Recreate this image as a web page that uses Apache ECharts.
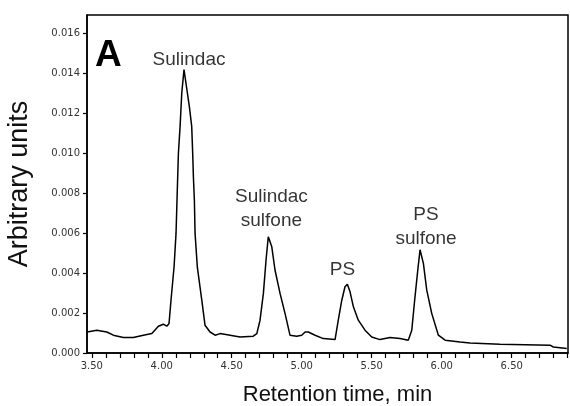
<!DOCTYPE html>
<html>
<head>
<meta charset="utf-8">
<script src="https://cdn.jsdelivr.net/npm/echarts@6/dist/echarts.min.js"></script>
<style>
  html, body { margin: 0; padding: 0; background: #fff; }
  #chart { width: 570px; height: 406px; }
</style>
</head>
<body>
<div id="chart"></div>
<script>
// 保留时间 (min) 与信号 (arbitrary units)
const retentionTime = [
  3.467, 3.536, 3.607, 3.654, 3.726, 3.797, 3.869, 3.929, 3.976, 4.011,
  4.036, 4.052, 4.066, 4.088, 4.102, 4.110, 4.119, 4.131, 4.143, 4.159,
  4.183, 4.197, 4.214, 4.221, 4.226, 4.233, 4.238, 4.254, 4.286, 4.309,
  4.345, 4.381, 4.417, 4.488, 4.559, 4.654, 4.679, 4.702, 4.726, 4.745,
  4.761, 4.769, 4.786, 4.809, 4.845, 4.881, 4.916, 4.964, 5.000, 5.024,
  5.047, 5.095, 5.154, 5.238, 5.261, 5.286, 5.309, 5.326, 5.345, 5.369,
  5.404, 5.452, 5.500, 5.559, 5.631, 5.702, 5.761, 5.786, 5.809, 5.829,
  5.845, 5.852, 5.869, 5.893, 5.929, 5.976, 6.024, 6.131, 6.202, 6.416,
  6.774, 6.797, 6.893
];
const signal = [
  0.00105, 0.00114, 0.00105, 0.00089, 0.00077, 0.00077, 0.00089, 0.00097, 0.00134, 0.00144,
  0.00134, 0.00147, 0.00264, 0.00431, 0.00598, 0.00790, 0.00999, 0.01133, 0.01300, 0.01417,
  0.01300, 0.01233, 0.01133, 0.00999, 0.00882, 0.00765, 0.00598, 0.00431, 0.00264, 0.00139,
  0.00105, 0.00089, 0.00097, 0.00089, 0.00080, 0.00084, 0.00097, 0.00164, 0.00298, 0.00465,
  0.00581, 0.00590, 0.00531, 0.00415, 0.00298, 0.00197, 0.00089, 0.00084, 0.00089, 0.00105,
  0.00105, 0.00089, 0.00072, 0.00067, 0.00164, 0.00264, 0.00331, 0.00344, 0.00306, 0.00231,
  0.00164, 0.00114, 0.00080, 0.00067, 0.00077, 0.00072, 0.00064, 0.00114, 0.00281, 0.00415,
  0.00516, 0.00523, 0.00448, 0.00314, 0.00197, 0.00089, 0.00064, 0.00055, 0.00050, 0.00044,
  0.00039, 0.00030, 0.00022
];

// 峰标注
const peakNames = ['Sulindac', 'Sulindac\nsulfone', 'PS', 'PS\nsulfone'];
const peakTimes = [4.159, 4.769, 5.326, 5.852];
const peakHeights = [0.01417, 0.00590, 0.00344, 0.00523];

// 刻度
const xTickLabels = ['3.50', '4.00', '4.50', '5.00', '5.50', '6.00', '6.50'];
const xMinorTicks = [
  3.5, 3.6, 3.7, 3.8, 3.9, 4.0, 4.1, 4.2, 4.3, 4.4, 4.5, 4.6, 4.7, 4.8, 4.9,
  5.0, 5.1, 5.2, 5.3, 5.4, 5.5, 5.6, 5.7, 5.8, 5.9, 6.0, 6.1, 6.2, 6.3, 6.4,
  6.5, 6.6, 6.7, 6.8, 6.9
];
const yTickLabels = ['0.000', '0.002', '0.004', '0.006', '0.008', '0.010', '0.012', '0.014', '0.016'];

const FONT = 'Liberation Sans, Arial, sans-serif';
const TICK_FONT = 'DejaVu Sans, sans-serif';

const chart = echarts.init(document.getElementById('chart'));

const traceData = retentionTime.map((t, i) => [t, signal[i]]);
const labelOffsets = [[5, 3], [2, 3], [-5, 3], [5, 3]];
const labelDistances = [1, 5, 5, 1];
const peakData = peakTimes.map((t, i) => ({
  value: [t, peakHeights[i]],
  name: peakNames[i],
  label: { offset: labelOffsets[i], distance: labelDistances[i] }
}));

const option = {
  animation: false,
  backgroundColor: '#fff',
  grid: {
    left: 87, right: 2, top: 15, bottom: 53,
    containLabel: false,
    outerBoundsMode: 'none',
    show: true, borderColor: '#000', borderWidth: 1.5, backgroundColor: 'transparent'
  },
  xAxis: {
    type: 'value',
    min: 3.466,
    max: 6.902,
    name: 'Retention time, min',
    nameLocation: 'middle',
    nameGap: 31,
    nameTextStyle: { fontFamily: FONT, fontSize: 22, color: '#111', padding: [0, 0, 0, 20] },
    axisLine: { lineStyle: { color: '#000', width: 1.5 } },
    axisTick: {
      customValues: xMinorTicks, inside: false, length: 5,
      lineStyle: { color: '#000', width: 1.2 }
    },
    axisLabel: {
      customValues: xTickLabels.map(Number),
      formatter: v => v.toFixed(2),
      fontFamily: TICK_FONT, fontSize: 10, color: '#333', margin: 8
    },
    splitLine: { show: false }
  },
  yAxis: {
    type: 'value',
    min: 0,
    max: 0.0169,
    name: 'Arbitrary units',
    nameLocation: 'middle',
    nameGap: 54,
    nameTextStyle: { fontFamily: FONT, fontSize: 27, color: '#111' },
    axisLine: { show: true, lineStyle: { color: '#000', width: 1.5 } },
    axisTick: {
      show: true, customValues: yTickLabels.map(Number), length: 4,
      lineStyle: { color: '#000', width: 1.2 }
    },
    axisLabel: {
      customValues: yTickLabels.map(Number),
      formatter: v => v.toFixed(3),
      fontFamily: TICK_FONT, fontSize: 10, color: '#333', margin: 7
    },
    splitLine: { show: false }
  },
  graphic: [{
    type: 'text',
    left: 95,
    top: 37,
    style: { text: 'A', fontFamily: FONT, fontSize: 37, fontWeight: 'bold', fill: '#000' }
  }],
  series: [
    {
      type: 'line',
      data: traceData,
      showSymbol: false,
      lineStyle: { color: '#000', width: 1.5 },
      z: 2
    },
    {
      type: 'scatter',
      data: peakData,
      symbolSize: 0,
      label: {
        show: true,
        position: 'top',
        formatter: p => p.name,
        fontFamily: FONT, fontSize: 19, lineHeight: 24, color: '#000', align: 'center'
      },
      z: 3
    }
  ]
};

chart.setOption(option);
</script>
</body>
</html>
